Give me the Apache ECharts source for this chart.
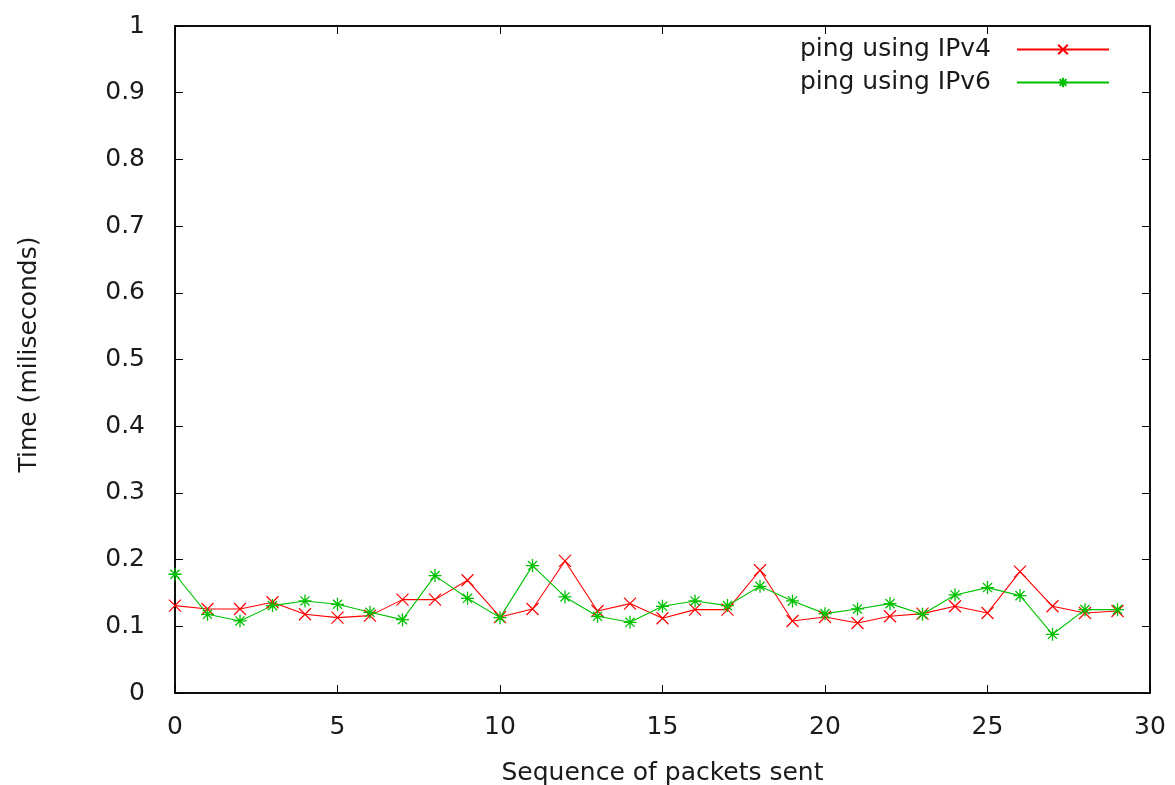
<!DOCTYPE html>
<html>
<head>
<meta charset="utf-8">
<script src="https://cdn.jsdelivr.net/npm/echarts@6/dist/echarts.min.js"></script>
<style>html,body{margin:0;padding:0;background:#fff;}#c{width:1175px;height:785px;}</style>
</head>
<body>
<div id="c"></div>
<script>
const seq = [0,1,2,3,4,5,6,7,8,9,10,11,12,13,14,15,16,17,18,19,20,21,22,23,24,25,26,27,28,29];
const ipv4 = [0.131,0.126,0.126,0.136,0.118,0.113,0.116,0.140,0.140,0.169,0.114,0.126,0.198,0.123,0.134,0.112,0.125,0.125,0.184,0.108,0.114,0.105,0.115,0.119,0.130,0.120,0.182,0.130,0.120,0.123];
const ipv6 = [0.178,0.118,0.108,0.131,0.138,0.133,0.121,0.110,0.176,0.142,0.113,0.191,0.144,0.115,0.106,0.130,0.138,0.131,0.160,0.138,0.119,0.126,0.134,0.118,0.147,0.158,0.146,0.088,0.125,0.125];
const seriesNames = ['ping using IPv4', 'ping using IPv6'];
const xTitle = 'Sequence of packets sent';
const yTitle = 'Time (miliseconds)';

const FONT = 'DejaVu Sans';
const txt = {fontFamily: FONT, fontSize: 25, color: '#1a1a1a'};
const crossPath = 'path://M0,0L10,10M10,0L0,10';
const starPath = 'path://M5,0L5,10M0,5L10,5M1.5,1.5L8.5,8.5M8.5,1.5L1.5,8.5';

const chart = echarts.init(document.getElementById('c'), null, {renderer: 'canvas'});
const axCommon = {
  type: 'value',
  splitLine: {show: false},
  axisLine: {show: true, onZero: false, lineStyle: {color: '#000', width: 1.5}},
  axisTick: {show: true, inside: true, length: 8, lineStyle: {color: '#000', width: 1}}
};
chart.setOption({
  animation: false,
  backgroundColor: '#fff',
  grid: {left: 175, right: 25, top: 26, bottom: 92, show: true, borderColor: '#000', borderWidth: 1.5,
         containLabel: false, outerBoundsMode: 'none'},
  legend: {
    right: 60, top: 32, orient: 'vertical', align: 'right',
    itemWidth: 92, itemHeight: 12, itemGap: 8,
    textStyle: Object.assign({}, txt, {padding: [0, 21, 0, 0]}),
    data: seriesNames
  },
  xAxis: [
    Object.assign({}, axCommon, {
      min: 0, max: 30, interval: 5, position: 'bottom',
      axisLabel: Object.assign({}, txt, {margin: 22}),
      name: xTitle, nameLocation: 'middle', nameGap: 68,
      nameTextStyle: Object.assign({}, txt)
    }),
    Object.assign({}, axCommon, {
      min: 0, max: 30, interval: 5, position: 'top',
      axisLabel: {show: false}
    })
  ],
  yAxis: [
    Object.assign({}, axCommon, {
      min: 0, max: 1, interval: 0.1, position: 'left',
      axisLabel: Object.assign({}, txt, {margin: 30}),
      name: yTitle, nameLocation: 'middle', nameGap: 133,
      nameTextStyle: Object.assign({}, txt, {padding: [0, 0, 0, 10]})
    }),
    Object.assign({}, axCommon, {
      min: 0, max: 1, interval: 0.1, position: 'right',
      axisLabel: {show: false}
    })
  ],
  series: [
    {
      name: seriesNames[0], type: 'line',
      data: seq.map((s, i) => [s, ipv4[i]]),
      symbol: crossPath, symbolSize: 12,
      lineStyle: {color: '#ff0000', width: 1.1},
      itemStyle: {color: '#ff0000', borderColor: '#ff0000', borderWidth: 1.2},
      emphasis: {disabled: true}
    },
    {
      name: seriesNames[1], type: 'line',
      data: seq.map((s, i) => [s, ipv6[i]]),
      symbol: starPath, symbolSize: 13,
      lineStyle: {color: '#00c000', width: 1.1},
      itemStyle: {color: '#00c000', borderColor: '#00c000', borderWidth: 1.3},
      emphasis: {disabled: true}
    }
  ]
});
</script>
</body>
</html>
